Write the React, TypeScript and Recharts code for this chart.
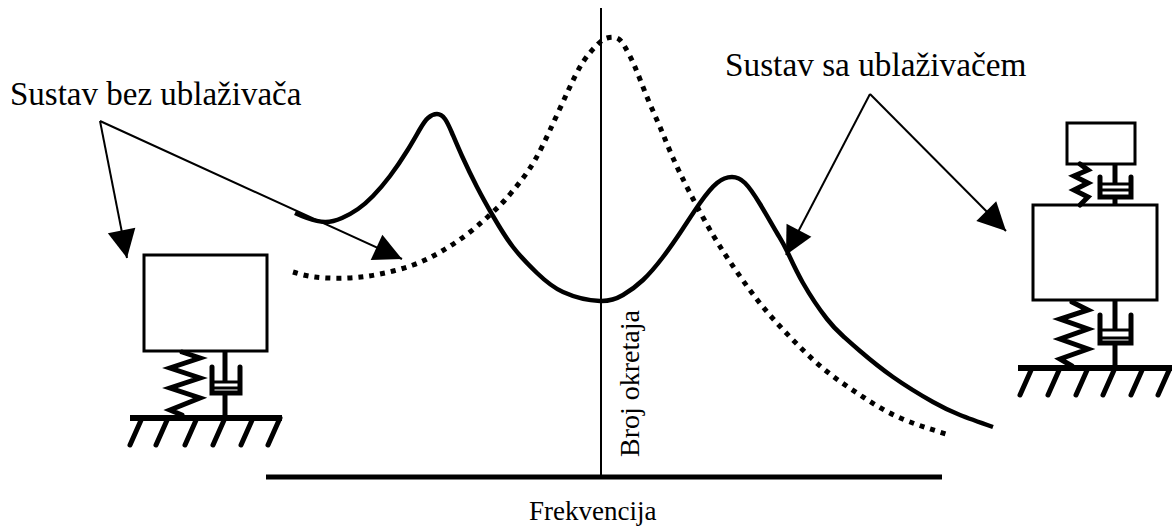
import { LineChart, Line, XAxis, YAxis, ReferenceArea, ReferenceDot } from 'recharts';

type Pt = { x: number; y: number };
const pts = (raw: number[][]): Pt[] => raw.map(([x, y]) => ({ x, y }));

// response curves
const withAbsorber = pts([
  [295, 213], [307, 218], [325, 222], [342, 218], [358, 209], [373, 196], [390, 176], [407, 151], [420, 129],
  [428, 118], [437, 114], [445, 119], [452, 133], [462, 156], [477, 187], [493, 216], [513, 247], [537, 273],
  [563, 292], [600, 301], [623, 295], [643, 280], [663, 257], [682, 230], [700, 203], [717, 183], [732, 177],
  [745, 183], [760, 204], [777, 233], [787, 251], [803, 283], [827, 319], [843, 336], [860, 351], [893, 377], [933, 402], [960, 415], [993, 427],
]);
const withoutAbsorber = pts([
  [293, 272], [315, 277], [348, 278], [380, 274], [413, 265], [442, 251], [470, 232], [493, 212], [505, 200],
  [520, 182], [535, 160], [550, 130], [568, 91], [583, 62], [598, 44], [607, 38], [617, 38], [625, 47], [635, 67], [647, 97],
  [660, 127], [673, 158], [690, 193], [713, 235], [737, 272], [763, 307], [793, 340], [825, 370], [860, 395], [898, 417], [946, 434],
]);

const baseline = pts([[266, 477], [942, 477]]);
const rpmLine = pts([[601, 8], [601, 477]]);

// callouts
const arrows = [
  { from: [100, 121], to: [127, 258] },
  { from: [100, 121], to: [402, 259] },
  { from: [870, 94], to: [786, 255] },
  { from: [870, 94], to: [1006, 231] },
];

const boxes = [
  [144, 267, 255, 351],
  [1067, 1135, 123, 164],
  [1033, 1157, 205, 300],
];

const springs = [
  pts([[182, 352], [200, 358], [170, 368], [200, 378], [170, 388], [200, 398], [170, 410], [182, 415]]),
  pts([[1080, 164], [1088, 170], [1074, 176], [1088, 183], [1074, 190], [1088, 197], [1080, 205]]),
  pts([[1072, 302], [1088, 310], [1060, 319], [1088, 329], [1060, 339], [1088, 349], [1060, 359], [1072, 366]]),
];

const dampers = [
  { rod: 225, left: 212, right: 240, top: 367, bottom: 393, plate1: 382, plate2: 388, y1: 351, y2: 418 },
  { rod: 1115, left: 1100, right: 1131, top: 177, bottom: 197, plate1: 184, plate2: 190, y1: 164, y2: 205 },
  { rod: 1115, left: 1100, right: 1131, top: 315, bottom: 343, plate1: 330, plate2: 338, y1: 300, y2: 368 },
];

const grounds = [
  { x1: 130, x2: 282, y: 418, y2: 445, hatches: [142, 168, 197, 225, 253, 280] },
  { x1: 1018, x2: 1172, y: 368, y2: 395, hatches: [1032, 1060, 1088, 1115, 1143, 1170] },
];

const labels = [
  { text: 'Sustav bez ublaživača', x: 10, y: 105, size: 33, rotate: 0 },
  { text: 'Sustav sa ublaživačem', x: 725, y: 76, size: 33.3, rotate: 0 },
  { text: 'Frekvencija', x: 529, y: 520, size: 27, rotate: 0 },
  { text: 'Broj okretaja', x: 639, y: 457, size: 28, rotate: -90 },
];

const line = (key: string, data: Pt[], w = 2, dash?: string, curve = false, cap: 'butt' | 'round' = 'butt') => (
  <Line
    key={key}
    data={data}
    dataKey="y"
    type={curve ? 'natural' : 'linear'}
    stroke="#000"
    strokeWidth={w}
    strokeDasharray={dash}
    strokeLinecap={cap}
    dot={false}
    activeDot={false}
    legendType="none"
    isAnimationActive={false}
  />
);

export default function App() {
  return (
    <div style={{ position: 'absolute', left: 0, top: 0, background: '#fff' }}>
      <LineChart width={1172} height={528} margin={{ top: 0, right: 0, bottom: 0, left: 0 }}>
        <XAxis type="number" dataKey="x" domain={[0, 1172]} hide />
        <YAxis type="number" domain={[0, 528]} reversed hide />

        {boxes.map(([x1, x2, y1, y2], i) => (
          <ReferenceArea key={i} x1={x1} x2={x2} y1={y1} y2={y2} fill="#fff" fillOpacity={1} stroke="#000" strokeWidth={3} />
        ))}

        {line('baseline', baseline, 5)}
        {line('rpm', rpmLine, 2)}
        {line('with', withAbsorber, 4.5, undefined, true)}
        {line('without', withoutAbsorber, 5, '5 6', true)}

        {arrows.map((a, i) => line(`arrow${i}`, pts([a.from, a.to]), 2))}
        {arrows.map((a, i) => {
          const angle = (Math.atan2(a.to[1] - a.from[1], a.to[0] - a.from[0]) * 180) / Math.PI;
          return (
            <ReferenceDot
              key={i}
              x={a.to[0]}
              y={a.to[1]}
              r={0}
              shape={(p: any) => (
                <polygon points="0,0 -28,-14 -28,14" fill="#000" transform={`translate(${p.cx} ${p.cy}) rotate(${angle})`} />
              )}
            />
          );
        })}

        {springs.map((s, i) => line(`spring${i}`, s, 5, undefined, false, 'round'))}

        {dampers.flatMap((d, i) => [
          line(`rodA${i}`, pts([[d.rod, d.y1], [d.rod, d.plate1]]), 5),
          line(`rodB${i}`, pts([[d.rod, d.bottom], [d.rod, d.y2]]), 5),
          line(`cup${i}`, pts([[d.left, d.top], [d.left, d.bottom], [d.right, d.bottom], [d.right, d.top]]), 5, undefined, false, 'round'),
          line(`plateA${i}`, pts([[d.left, d.plate1], [d.right, d.plate1]]), 3),
          line(`plateB${i}`, pts([[d.left, d.plate2], [d.right, d.plate2]]), 3),
        ])}

        {grounds.flatMap((g, i) => [
          line(`ground${i}`, pts([[g.x1, g.y], [g.x2, g.y]]), 6),
          ...g.hatches.map((h, j) => line(`hatch${i}-${j}`, pts([[h, g.y], [h - 12, g.y2]]), 5, undefined, false, 'round')),
        ])}

        {labels.map((l) => (
          <ReferenceDot
            key={l.text}
            x={l.x}
            y={l.y}
            r={0}
            shape={(p: any) => (
              <text
                x={p.cx}
                y={p.cy}
                fontFamily="'Liberation Serif', serif"
                fontSize={l.size}
                fill="#000"
                transform={l.rotate ? `rotate(${l.rotate} ${p.cx} ${p.cy})` : undefined}
              >
                {l.text}
              </text>
            )}
          />
        ))}
      </LineChart>
    </div>
  );
}
